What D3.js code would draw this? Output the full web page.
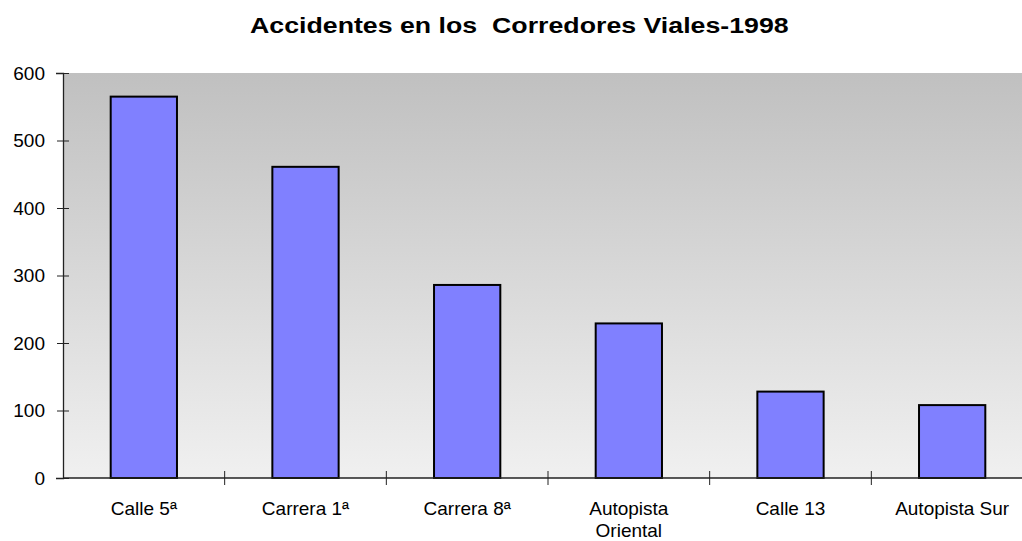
<!DOCTYPE html>
<html>
<head>
<meta charset="utf-8">
<script src="https://cdn.jsdelivr.net/npm/d3@7"></script>
<style>
  body { margin: 0; background: #fff; }
  text { font-family: "Liberation Sans", Arial, sans-serif; fill: #000; }
</style>
</head>
<body>
<div id="container"></div>
<script>
var categories = ["Calle 5ª", "Carrera 1ª", "Carrera 8ª", "Autopista Oriental", "Calle 13", "Autopista Sur"];
var values = [565, 461, 286, 229, 128, 108];
var yTicks = [0, 100, 200, 300, 400, 500, 600];

var width = 1022;
var height = 541;
var plotLeft = 63, plotRight = 1033, plotTop = 73, plotBottom = 478;

var svg = d3
  .select("#container")
  .append("svg")
  .attr("width", width)
  .attr("height", height);

// background gradient of the plot area
var grad = svg.append("defs")
  .append("linearGradient")
  .attr("id", "bg")
  .attr("x1", "0%").attr("y1", "0%")
  .attr("x2", "0%").attr("y2", "100%");
grad.append("stop").attr("offset", "0%").attr("stop-color", "#c0c0c0");
grad.append("stop").attr("offset", "100%").attr("stop-color", "#f0f0f0");

svg.append("rect")
  .attr("x", plotLeft)
  .attr("y", plotTop)
  .attr("width", plotRight - plotLeft)
  .attr("height", plotBottom - plotTop)
  .style("fill", "url(#bg)");

var x = d3.scaleBand()
  .domain(categories)
  .range([plotLeft, plotRight])
  .paddingInner(0)
  .paddingOuter(0);

var y = d3.scaleLinear()
  .domain([0, 600])
  .range([plotBottom, plotTop]);

// title (the original is drawn a bit wider than Arial bold)
var title = svg.append("text")
  .attr("x", 0)
  .attr("y", 0)
  .style("font-size", "22px")
  .style("font-weight", "bold")
  .style("white-space", "pre")
  .text("Accidentes en los  Corredores Viales-1998");
var tw = title.node().getComputedTextLength();
var sx = 539 / tw;
title.attr("transform", "translate(250,33) scale(" + sx + ",1)");

// bars
var barW = x.bandwidth() * 0.41;
svg.selectAll("rect.bar")
  .data(values)
  .enter()
  .append("rect")
  .attr("class", "bar")
  .attr("x", (d, i) => x(categories[i]) + (x.bandwidth() - barW) / 2)
  .attr("y", d => y(d))
  .attr("width", barW)
  .attr("height", d => plotBottom - y(d))
  .attr("fill", "#8080ff")
  .attr("stroke", "#000")
  .attr("stroke-width", 2);

// y axis
var yAxis = svg.append("g")
  .attr("transform", "translate(" + plotLeft + ",0)")
  .call(d3.axisLeft(y).tickValues(yTicks).tickSize(7));
yAxis.attr("font-family", null).attr("font-size", null);
yAxis.select(".domain").attr("stroke", "#222").attr("stroke-width", 1.3);
yAxis.selectAll(".tick line").attr("x2", 6).attr("x1", -6).attr("stroke", "#222");
yAxis.selectAll(".tick text")
  .style("font-size", "19px")
  .attr("x", -18);

// x axis line and category ticks
svg.append("line")
  .attr("x1", plotLeft).attr("x2", plotRight)
  .attr("y1", plotBottom).attr("y2", plotBottom)
  .attr("stroke", "#222").attr("stroke-width", 1.3);

svg.selectAll("line.cat")
  .data(categories.slice(1))
  .enter()
  .append("line")
  .attr("class", "cat")
  .attr("x1", d => x(d)).attr("x2", d => x(d))
  .attr("y1", plotBottom - 7).attr("y2", plotBottom + 7)
  .attr("stroke", "#222");

// category labels, wrapped like the original
var labels = svg.selectAll("text.cat")
  .data(categories)
  .enter()
  .append("text")
  .attr("class", "cat")
  .attr("x", d => x(d) + x.bandwidth() / 2)
  .attr("y", 515)
  .style("text-anchor", "middle")
  .style("font-size", "19px");

labels.each(function(d) {
  var lines = d === "Autopista Oriental" ? ["Autopista", "Oriental"] : [d];
  var t = d3.select(this);
  lines.forEach(function(l, i) {
    t.append("tspan")
      .attr("x", x(d) + x.bandwidth() / 2)
      .attr("dy", i === 0 ? 0 : 22)
      .text(l);
  });
});
</script>
</body>
</html>
